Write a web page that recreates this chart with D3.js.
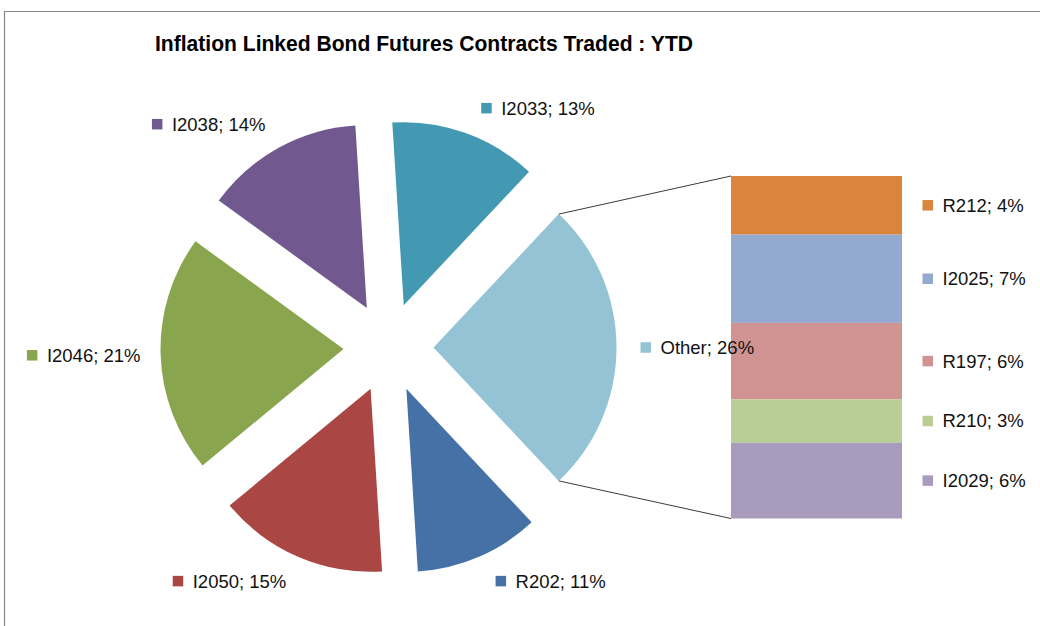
<!DOCTYPE html>
<html>
<head>
<meta charset="utf-8">
<script src="https://cdn.jsdelivr.net/npm/d3@7"></script>
<style>
  html, body { margin: 0; padding: 0; background: #fff; }
  svg { display: block; }
  text { font-family: "Liberation Sans", Arial, sans-serif; }
</style>
</head>
<body>
<svg id="chart" width="1040" height="626"></svg>
<script>
// ---- Data ----
const title = "Inflation Linked Bond Futures Contracts Traded : YTD";
const pieLabels = ["I2033", "Other", "R202", "I2050", "I2046", "I2038"];
const pieValues = [13, 26, 11, 15, 21, 14];
const barLabels = ["R212", "I2025", "R197", "R210", "I2029"];
const barValues = [4.45, 6.7, 5.8, 3.3, 5.75];

// ---- Styles ----
const pieColors = {
  I2033: "#4399B1", Other: "#93C3D5", R202: "#4571A6",
  I2050: "#AA4643", I2046: "#89A54E", I2038: "#71588F"
};
const barColors = {
  R212: "#DB843D", I2025: "#93A9CF", R197: "#D19392",
  R210: "#B9CD96", I2029: "#A99BBD"
};

// ---- Layout ----
const W = 1040, H = 626;
const cx = 388.5, cy = 347.5, R = 183, explode = 45;
const bar = { x0: 731, x1: 902, y0: 176, y1: 518.5 };
const fontSize = 18.5;

const svg = d3.select("#chart");

// frame
svg.append("path")
  .attr("d", `M4.5,${H} L4.5,11.5 L${W},11.5`)
  .attr("fill", "none").attr("stroke", "#868686").attr("stroke-width", 1.2);

// title
svg.append("text")
  .attr("x", 155).attr("y", 50.5)
  .attr("font-size", 22).attr("font-weight", "bold").attr("fill", "#000")
  .attr("textLength", 538).attr("lengthAdjust", "spacingAndGlyphs")
  .text(title);

const total = d3.sum(pieValues);
const otherIdx = pieLabels.indexOf("Other");
const before = d3.sum(pieValues.slice(0, otherIdx));
// Excel centres the "Other" slice on the right (3 o'clock)
const start = Math.PI / 2 - (before + pieValues[otherIdx] / 2) / total * 2 * Math.PI;

const pie = d3.pie().sort(null).value(d => d.v)
  .startAngle(start).endAngle(start + 2 * Math.PI);
const arcs = pie(pieLabels.map((n, i) => ({ n, v: pieValues[i] })));
const arcGen = d3.arc().innerRadius(0).outerRadius(R);

const gPie = svg.append("g");
arcs.forEach(d => {
  const m = (d.startAngle + d.endAngle) / 2;
  const ex = cx + explode * Math.sin(m), ey = cy - explode * Math.cos(m);
  d.ex = ex; d.ey = ey; d.mid = m;
  gPie.append("path")
    .attr("transform", `translate(${ex},${ey})`)
    .attr("d", arcGen(d))
    .attr("fill", pieColors[d.data.n]);
});

// bar of pie
const barTotal = d3.sum(barValues);
const y = d3.scaleLinear().domain([0, barTotal]).range([bar.y0, bar.y1]);
const stackStarts = d3.cumsum([0, ...barValues]);
const gBar = svg.append("g");
barLabels.forEach((n, i) => {
  gBar.append("rect")
    .attr("x", bar.x0).attr("width", bar.x1 - bar.x0)
    .attr("y", y(stackStarts[i]))
    .attr("height", y(stackStarts[i + 1]) - y(stackStarts[i]))
    .attr("fill", barColors[n]);
});

// connector lines from Other slice corners to bar
const o = arcs[otherIdx];
const topPt = [o.ex + R * Math.sin(o.startAngle), o.ey - R * Math.cos(o.startAngle)];
const botPt = [o.ex + R * Math.sin(o.endAngle), o.ey - R * Math.cos(o.endAngle)];
svg.append("line").attr("x1", topPt[0]).attr("y1", topPt[1])
  .attr("x2", bar.x0).attr("y2", bar.y0)
  .attr("stroke", "#3c3c3c").attr("stroke-width", 1);
svg.append("line").attr("x1", botPt[0]).attr("y1", botPt[1])
  .attr("x2", bar.x0).attr("y2", bar.y1)
  .attr("stroke", "#3c3c3c").attr("stroke-width", 1);

// label helper
const sq = 10.5, gap = 20;
function drawLabel(g, left, midY, color, txt) {
  g.append("rect").attr("x", left).attr("y", midY - sq / 2)
    .attr("width", sq).attr("height", sq).attr("fill", color);
  return g.append("text").attr("x", left + gap).attr("y", midY)
    .attr("dy", "0.35em").attr("font-size", fontSize).attr("fill", "#111")
    .text(txt);
}

// measure text width
const meas = svg.append("text").attr("font-size", fontSize).attr("visibility", "hidden");
function textW(t) { meas.text(t); return meas.node().getComputedTextLength(); }

const gLab = svg.append("g");
arcs.forEach(d => {
  const txt = `${d.data.n}; ${Math.round(d.data.v / total * 100)}%`;
  const s = Math.sin(d.mid), c = Math.cos(d.mid);
  const lr = R + 20;
  const nudge = s > 0 ? 4 + 5 * Math.abs(c) : -4 * Math.abs(c);
  const px = d.ex + lr * s + nudge, py = d.ey - lr * c;
  const w = gap + textW(txt);
  const left = s > 0.15 ? px : s < -0.15 ? px - w : px - w / 2;
  const h = 12;
  const midY = c > 0.5 ? py - h / 2 : c < -0.5 ? py + h / 2 : py;
  drawLabel(gLab, left, midY, pieColors[d.data.n], txt);
});

barLabels.forEach((n, i) => {
  const midY = (y(stackStarts[i]) + y(stackStarts[i + 1])) / 2;
  const txt = `${n}; ${Math.round(barValues[i] / total * 100)}%`;
  drawLabel(gLab, bar.x1 + 20.5, midY, barColors[n], txt);
});
meas.remove();
</script>
</body>
</html>
